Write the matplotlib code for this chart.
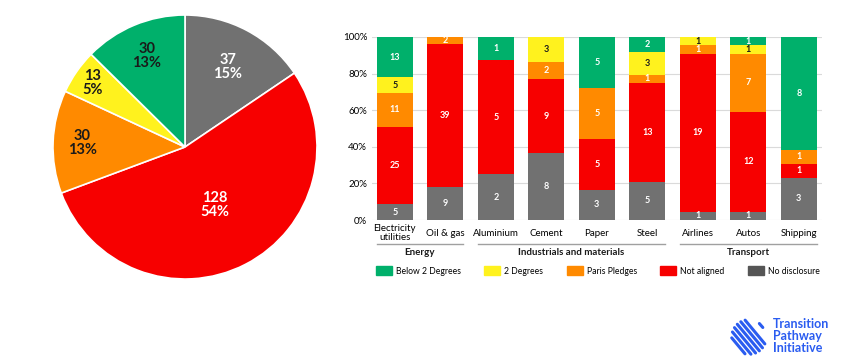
import numpy as np
import matplotlib.pyplot as plt

plt.rcParams['font.family'] = ['Lato', 'DejaVu Sans']

# pie: all companies by alignment (clockwise from top)
pie_counts = [37, 128, 30, 13, 30]
pie_pcts = ['15%', '54%', '13%', '5%', '13%']

# bars: companies per sector and alignment
sectors = ['Electricity\nutilities', 'Oil & gas', 'Aluminium', 'Cement', 'Paper',
           'Steel', 'Airlines', 'Autos', 'Shipping']
no_disclosure = [5, 9, 2, 8, 3, 5, 1, 1, 3]
not_aligned = [25, 39, 5, 9, 5, 13, 19, 12, 1]
paris_pledges = [11, 2, 0, 2, 5, 1, 1, 7, 1]
two_degrees = [5, 0, 0, 3, 0, 3, 1, 1, 0]
below_two = [13, 0, 1, 0, 5, 2, 0, 1, 8]
legend_names = ['Below 2 Degrees', '2 Degrees', 'Paris Pledges', 'Not aligned', 'No disclosure']

groups = ['Energy', 'Industrials and materials', 'Transport']
group_spans = [(0, 1), (2, 5), (6, 8)]

GREEN = '#00b06b'
YELLOW = '#fff21e'
ORANGE = '#ff8a00'
RED = '#f70000'
GREY = '#717171'
BLUE = '#2a5cf0'

fig = plt.figure(figsize=(8.5, 3.59), dpi=100)

# ---- pie
axp = fig.add_axes([53/850, 1-279/359, 264/850, 264/359])
wedges, _ = axp.pie(pie_counts, colors=[GREY, RED, ORANGE, YELLOW, GREEN],
                    startangle=90, counterclock=False,
                    wedgeprops=dict(edgecolor='white', linewidth=1.2))
axp.set_xlim(-1, 1)
axp.set_ylim(-1, 1)
label_r = [0.69, 0.49, 0.78, 0.85, 0.75]
label_col = ['white', 'white', '#1a1a1a', '#1a1a1a', '#1a1a1a']
for w, n, p, r, c in zip(wedges, pie_counts, pie_pcts, label_r, label_col):
    th = np.deg2rad((w.theta1 + w.theta2) / 2)
    axp.text(r*np.cos(th), r*np.sin(th), f'{n}\n{p}', ha='center', va='center',
             fontsize=10.5, fontweight='bold', color=c, linespacing=1.0)

# ---- stacked bars
ax = fig.add_axes([372/850, 1-220/359, 450/850, 183/359])
series = [no_disclosure, not_aligned, paris_pledges, two_degrees, below_two]
colors = [GREY, RED, ORANGE, YELLOW, GREEN]
txt_cols = ['white', 'white', 'white', '#1a1a1a', 'white']
totals = np.sum(series, axis=0)
x = np.arange(len(sectors))
width = 0.71
bottom = np.zeros(len(sectors))
for vals, col, tc in zip(series, colors, txt_cols):
    share = np.array(vals) / totals * 100
    bars = ax.bar(x, share, width, bottom=bottom, color=col, zorder=2)
    ax.bar_label(bars, labels=[str(v) if v else '' for v in vals], label_type='center',
                 color=tc, fontsize=6.5, fontweight='bold')
    bottom += share

ax.set_xlim(-0.45, 8.46)
ax.set_ylim(0, 100)
ax.set_yticks(range(0, 101, 20))
ax.set_yticklabels([f'{v}%' for v in range(0, 101, 20)])
ax.grid(axis='y', color='#dadada', linewidth=0.8, zorder=0)
ax.set_axisbelow(True)
for s in ax.spines.values():
    s.set_visible(False)
ax.set_xticks(x)
ax.set_xticklabels(sectors, fontsize=7, linespacing=1.0)
for lbl in ax.get_xticklabels():
    lbl.set_va('center')
ax.tick_params(axis='x', length=0, pad=9.5)
ax.tick_params(axis='y', length=0, pad=3.5, labelsize=7)

trans = ax.get_xaxis_transform()
for name, (a, b) in zip(groups, group_spans):
    ax.plot([a - width/2, b + width/2], [-0.131, -0.131], color='#a0a0a0', lw=1,
            transform=trans, clip_on=False)
    ax.text((a + b) / 2, -0.18, name, transform=trans, ha='center', va='center',
            fontsize=7, fontweight='bold', color='#1a1a1a')

handles = [plt.Rectangle((0, 0), 1, 1, color=c) for c in [GREEN, YELLOW, ORANGE, RED, '#555555']]
fig.legend(handles, legend_names, ncol=5, loc='center left',
           bbox_to_anchor=(376/850, 1-271/359), frameon=False, fontsize=6.2,
           handlelength=1.86, handleheight=1.15, handletextpad=0.47, columnspacing=2.7,
           borderpad=0, borderaxespad=0)

# ---- TPI logo
axl = fig.add_axes([730/850, 1-356/359, 38/850, 38/359])
axl.set_aspect('equal')
axl.set_xlim(-1.1, 1.1)
axl.set_ylim(-1.1, 1.1)
axl.axis('off')
u = np.array([0.64, -0.77])
nrm = np.array([0.77, 0.64])
for d in np.linspace(-0.8, 0.45, 6):
    h = np.sqrt(1 - d**2)
    p0 = d*nrm - h*u
    p1 = d*nrm + h*u
    axl.plot([p0[0], p1[0]], [p0[1], p1[1]], color=BLUE, lw=2.2, solid_capstyle='round')
axl.plot([0.6, 0.8], [0.78, 0.55], color=BLUE, lw=2.2, solid_capstyle='round')
fig.text(773/850, 1-336/359, 'Transition\nPathway\nInitiative', color=BLUE,
         fontsize=9, fontweight='bold', ha='left', va='center', linespacing=0.95)

fig.savefig('out.png', dpi=100)
